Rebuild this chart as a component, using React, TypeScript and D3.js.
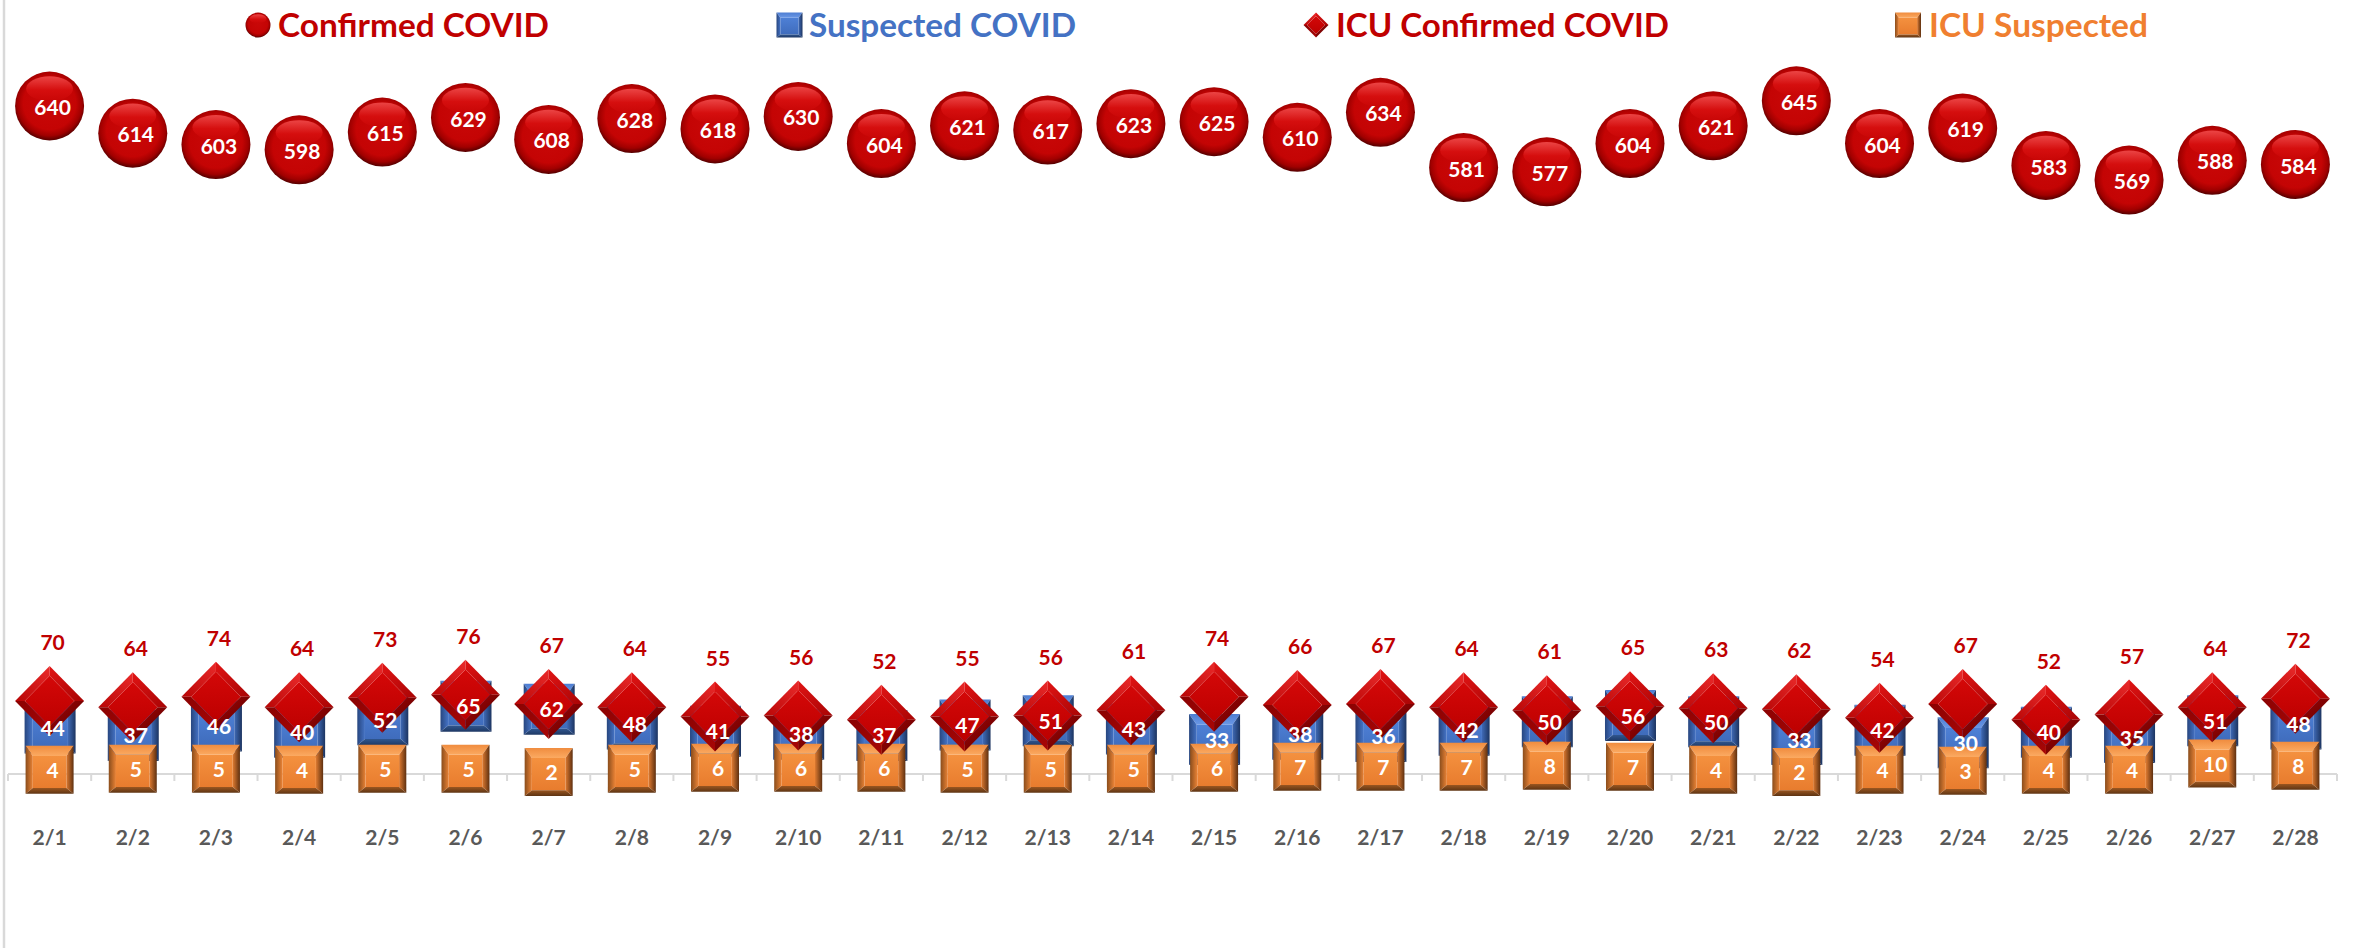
import React, { useEffect, useRef } from 'react';
import * as d3 from 'd3';

const days = ["2/1","2/2","2/3","2/4","2/5","2/6","2/7","2/8","2/9","2/10","2/11","2/12","2/13","2/14","2/15","2/16","2/17","2/18","2/19","2/20","2/21","2/22","2/23","2/24","2/25","2/26","2/27","2/28"];
const confirmed = [640,614,603,598,615,629,608,628,618,630,604,621,617,623,625,610,634,581,577,604,621,645,604,619,583,569,588,584];
const suspected = [44,37,46,40,52,65,62,48,41,38,37,47,51,43,33,38,36,42,50,56,50,33,42,30,40,35,51,48];
const icuConfirmed = [70,64,74,64,73,76,67,64,55,56,52,55,56,61,74,66,67,64,61,65,63,62,54,67,52,57,64,72];
const icuSuspected = [4,5,5,4,5,5,2,5,6,6,6,5,5,5,6,7,7,7,8,7,4,2,4,3,4,4,10,8];

const WIDTH = 2376;
const HEIGHT = 948;
const RED = "#C00000";
const BLUE = "#4472C4";
const ORANGE = "#F07F30";
const GREY = "#D9D9D9";
const FONT = "Lato, sans-serif";

type G = d3.Selection<any, any, any, any>;

// [id, stops, direction]
const gradients: [string, [number, string][], [number, number, number, number]][] = [
    ["oTop", [[0, "#F08C3E"], [1, "#FBAA62"]], [0, 0, 0, 1]],
    ["oLeft", [[0, "#8A4D1C"], [1, "#E98235"]], [0, 0, 1, 0]],
    ["oRight", [[0, "#DE7A30"], [1, "#5E3010"]], [0, 0, 1, 0]],
    ["oBottom", [[0, "#9A5620"], [1, "#5E3413"]], [0, 0, 0, 1]],
    ["oFace", [[0, "#F4913F"], [1, "#E87C2E"]], [0, 0, 0, 1]],
    ["bTop", [[0, "#4D7DD2"], [1, "#6B98E6"]], [0, 0, 0, 1]],
    ["bLeft", [[0, "#27467F"], [1, "#4472C4"]], [0, 0, 1, 0]],
    ["bRight", [[0, "#3F6AB6"], [1, "#1C3460"]], [0, 0, 1, 0]],
    ["bBottom", [[0, "#30568F"], [1, "#1E3864"]], [0, 0, 0, 1]],
    ["bFace", [[0, "#4E80D6"], [1, "#3F6CBC"]], [0, 0, 0, 1]],
    ["dUL", [[0, "#B80606"], [1, "#EA2A2A"]], [0, 1, 1, 0]],
    ["dUR", [[0, "#E01414"], [1, "#A80404"]], [0, 0, 1, 1]],
    ["dLL", [[0, "#8A0202"], [1, "#A80606"]], [0, 0, 1, 1]],
    ["dLR", [[0, "#AA0404"], [1, "#4E0000"]], [0, 0, 1, 1]],
    ["dFace", [[0, "#D40808"], [1, "#BC0000"]], [0, 0, 0, 1]],
    ["ballShine", [[0, "#F25050"], [0.55, "#D81010"], [1, "#C80606"]], [0, 0, 0, 1]],
];

function poly(g: G, pts: number[][], fill: string) {
    g.append("polygon").attr("points", pts.map(p => p.join(",")).join(" ")).attr("fill", `url(#${fill})`);
}

function drawBox(g: G, cx: number, cy: number, w: number, h: number, prefix: string) {
    const x0 = cx - w / 2, x1 = cx + w / 2, y0 = cy - h / 2, y1 = cy + h / 2;
    const sx = w * 0.15, top = h * 0.21, bot = h * 0.12;
    const ix0 = x0 + sx, ix1 = x1 - sx, iy0 = y0 + top, iy1 = y1 - bot;
    poly(g, [[ix0, iy0], [ix1, iy0], [ix1, iy1], [ix0, iy1]], `${prefix}Face`);
    poly(g, [[x0, y0], [x1, y0], [ix1, iy0], [ix0, iy0]], `${prefix}Top`);
    poly(g, [[x0, y0], [ix0, iy0], [ix0, iy1], [x0, y1]], `${prefix}Left`);
    poly(g, [[x1, y0], [ix1, iy0], [ix1, iy1], [x1, y1]], `${prefix}Right`);
    poly(g, [[x0, y1], [ix0, iy1], [ix1, iy1], [x1, y1]], `${prefix}Bottom`);
}

function drawDiamond(g: G, cx: number, cy: number, w: number, h: number) {
    const a = w / 2, b = h / 2, k = 0.72;
    const ia = a * k, ib = b * k;
    const L = [cx - a, cy], T = [cx, cy - b], R = [cx + a, cy], B = [cx, cy + b];
    const iL = [cx - ia, cy], iT = [cx, cy - ib], iR = [cx + ia, cy], iB = [cx, cy + ib];
    poly(g, [iL, iT, iR, iB], "dFace");
    poly(g, [L, T, iT, iL], "dUL");
    poly(g, [T, R, iR, iT], "dUR");
    poly(g, [L, iL, iB, B], "dLL");
    poly(g, [R, B, iB, iR], "dLR");
}

function drawBall(g: G, cx: number, cy: number, r: number) {
    g.append("circle").attr("cx", cx).attr("cy", cy).attr("r", r).attr("fill", "url(#ballBase)");
    g.append("ellipse")
        .attr("cx", cx).attr("cy", cy - r * 0.5)
        .attr("rx", r * 0.68).attr("ry", r * 0.36)
        .attr("fill", "url(#ballShine)")
        .attr("opacity", 0.85);
}

export default function App() {
    const svgRef = useRef<SVGSVGElement>(null);

    useEffect(() => {
        if (!svgRef.current) return;

        const svg = d3.select(svgRef.current);
        svg.selectAll("*").remove();

        // Scales
        const x = d3.scaleBand().domain(days).range([8, 2337]);
        const y = d3.scaleLinear().domain([0, 640]).range([774, 106]);
        const cx = (i: number) => x(days[i])! + x.bandwidth() / 2;

        // Gradients
        const defs = svg.append("defs");
        gradients.forEach(([id, stops, dir]) => {
            const lg = defs.append("linearGradient").attr("id", id)
                .attr("x1", dir[0]).attr("y1", dir[1]).attr("x2", dir[2]).attr("y2", dir[3]);
            stops.forEach(s => lg.append("stop").attr("offset", s[0]).attr("stop-color", s[1]));
        });
        const rg = defs.append("radialGradient").attr("id", "ballBase")
            .attr("cx", 0.5).attr("cy", 0.46).attr("r", 0.56);
        [[0, "#C90808"], [0.68, "#C40404"], [0.84, "#A00000"], [1, "#3E0000"]].forEach(s =>
            rg.append("stop").attr("offset", s[0]).attr("stop-color", s[1] as string));

        // Left border
        svg.append("line")
            .attr("x1", 4).attr("x2", 4).attr("y1", 0).attr("y2", HEIGHT)
            .attr("stroke", GREY).attr("stroke-width", 2.5);

        // Axis
        const axis = svg.append("g");
        axis.append("line")
            .attr("x1", x.range()[0]).attr("x2", x.range()[1])
            .attr("y1", y(0)).attr("y2", y(0))
            .attr("stroke", GREY).attr("stroke-width", 2);
        axis.selectAll("line.tick")
            .data(d3.range(days.length + 1))
            .join("line")
            .attr("class", "tick")
            .attr("x1", d => x.range()[0] + d * x.step())
            .attr("x2", d => x.range()[0] + d * x.step())
            .attr("y1", y(0))
            .attr("y2", y(0) + 7)
            .attr("stroke", GREY).attr("stroke-width", 2);
        axis.selectAll("text")
            .data(days)
            .join("text")
            .attr("x", d => x(d)! + x.bandwidth() / 2)
            .attr("y", 837)
            .attr("dy", "0.36em")
            .attr("text-anchor", "middle")
            .attr("font-family", FONT)
            .attr("font-weight", "bold")
            .attr("font-size", 21)
            .attr("fill", "#595959")
            .text(d => d);

        // Marks
        const marks = svg.append("g");
        suspected.forEach((v, i) => drawBox(marks, cx(i) + 0.5, y(v), 51, 51, "b"));
        icuSuspected.forEach((v, i) => drawBox(marks, cx(i), y(v), 48, 48, "o"));
        icuConfirmed.forEach((v, i) => drawDiamond(marks, cx(i), y(v), 69, 70));
        confirmed.forEach((v, i) => drawBall(marks, cx(i), y(v), 34.5));

        // Value labels
        const labels = (values: number[], dy: number, fill: string) => {
            svg.append("g").selectAll("text")
                .data(values)
                .join("text")
                .attr("x", (d, i) => cx(i) + 3)
                .attr("y", d => y(d) + dy)
                .attr("dy", "0.36em")
                .attr("text-anchor", "middle")
                .attr("font-family", FONT)
                .attr("font-weight", "bold")
                .attr("font-size", 21)
                .attr("fill", fill)
                .text(d => d);
        };
        labels(suspected, 0.5, "#FFFFFF");
        labels(icuSuspected, 1, "#FFFFFF");
        labels(confirmed, 1.5, "#FFFFFF");
        labels(icuConfirmed, -58.5, RED);

        // Legend
        const legend = svg.append("g");
        const legendY = 25;
        const legendText = (label: string, x0: number, x1: number, fill: string) => {
            legend.append("text")
                .attr("x", x0)
                .attr("y", legendY)
                .attr("dy", "0.36em")
                .attr("font-family", FONT)
                .attr("font-weight", "bold")
                .attr("font-size", 32)
                .attr("fill", fill)
                .attr("textLength", x1 - x0)
                .attr("lengthAdjust", "spacingAndGlyphs")
                .text(label);
        };
        drawBall(legend, 258, legendY, 12.5);
        legendText("Confirmed COVID", 278, 549, RED);
        drawBox(legend, 789.5, legendY, 26, 25, "b");
        legendText("Suspected COVID", 809, 1076, BLUE);
        drawDiamond(legend, 1316, legendY, 25, 25);
        legendText("ICU Confirmed COVID", 1336, 1669, RED);
        drawBox(legend, 1908, legendY, 26, 25, "o");
        legendText("ICU Suspected", 1929, 2148, ORANGE);
    }, []);

    return (
        <svg
            ref={svgRef}
            width={WIDTH}
            height={HEIGHT}
            viewBox={`0 0 ${WIDTH} ${HEIGHT}`}
            style={{ position: "absolute", left: 0, top: 0, display: "block", background: "#fff" }}
        />
    );
}
